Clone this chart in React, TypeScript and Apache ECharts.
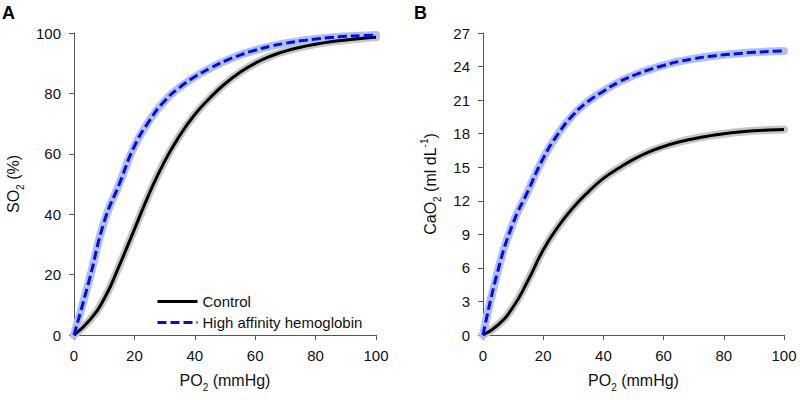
import React, { useEffect, useRef } from "react";
import * as echarts from "echarts";

const PO2 = [0, 5, 10, 15, 20, 25, 30, 35, 40, 45, 50, 55, 60, 65, 70, 75, 80, 85, 90, 95, 100];
const SO2_CONTROL = [0, 4.7, 12, 23, 35, 47, 57.5, 66, 73, 78.5, 83.2, 87, 90, 92.3, 94, 95.3, 96.3, 97.1, 97.7, 98.2, 98.6];
const SO2_HIGH = [0, 18, 37.5, 50, 62.5, 71, 77.5, 82, 85.5, 88.3, 90.7, 92.7, 94.3, 95.6, 96.6, 97.4, 98, 98.5, 98.9, 99.1, 99.3];
const CAO2_CONTROL = [0, 0.9, 2.5, 4.9, 7.6, 9.7, 11.4, 12.8, 14, 14.9, 15.7, 16.35, 16.85, 17.25, 17.55, 17.8, 18, 18.15, 18.25, 18.32, 18.38];
const CAO2_HIGH = [0, 5.8, 10, 12.9, 15.8, 18, 19.7, 20.9, 21.8, 22.6, 23.2, 23.7, 24.1, 24.45, 24.7, 24.9, 25.05, 25.17, 25.27, 25.35, 25.4];
const LEGEND_NAMES = ["Control", "High affinity hemoglobin"];

const FONT = "Liberation Sans, Arial, sans-serif";

const zip = (xs: number[], ys: number[]) => xs.map((x, i) => [x, ys[i]]);

export default function App() {
  const ref = useRef<HTMLDivElement>(null);
  useEffect(() => {
    if (!ref.current) return;
    const chart = echarts.init(ref.current, undefined, { renderer: "svg" });
    const axisLine = { show: true, lineStyle: { color: "#555", width: 1 } };
    const axisTick = { show: true, length: 5, lineStyle: { color: "#555" } };
    const label = { fontSize: 15, color: "#111", fontFamily: FONT };
    const richName = {
      a: { fontSize: 16, color: "#111", fontFamily: FONT },
      b: { fontSize: 10, color: "#111", fontFamily: FONT, verticalAlign: "bottom", padding: [0, 0, -4, 0] },
      c: { fontSize: 10, color: "#111", fontFamily: FONT, verticalAlign: "top", padding: [-3, 0, 0, 0] },
    };
    const xAxisCommon = (gi: number) => ({
      type: "value",
      gridIndex: gi,
      min: 0,
      max: 100,
      interval: 20,
      axisLine,
      axisTick,
      splitLine: { show: false },
      axisLabel: { ...label, margin: 13 },
      name: "{a|PO}{b|2}{a| (mmHg)}",
      nameLocation: "middle",
      nameGap: 37,
      nameTextStyle: { rich: richName },
    });
    const band = (name: string, xi: number, data: number[][], color: string) => ({
      name,
      type: "line",
      xAxisIndex: xi,
      yAxisIndex: xi,
      data,
      smooth: true,
      symbol: "none",
      silent: true,
      lineStyle: { color, width: 8, cap: "round" },
      z: 1,
    });
    const main = (name: string, xi: number, data: number[][], color: string, dashed: boolean) => ({
      name,
      type: "line",
      xAxisIndex: xi,
      yAxisIndex: xi,
      data,
      smooth: true,
      symbol: "none",
      itemStyle: { color },
      lineStyle: { color, width: 3, type: dashed ? [9, 4] : "solid" },
      z: 3,
    });
    chart.setOption({
      animation: false,
      textStyle: { fontFamily: FONT },
      grid: [
        { left: 74, top: 33, width: 302, height: 302 },
        { left: 483, top: 33, width: 301, height: 302 },
      ],
      legend: {
        data: LEGEND_NAMES,
        left: 151,
        top: 289,
        orient: "vertical",
        itemWidth: 40,
        itemHeight: 10,
        itemGap: 6,
        itemStyle: { opacity: 0 },
        lineStyle: { width: 3 },
        textStyle: { fontSize: 15, color: "#111", fontFamily: FONT },
        selectedMode: false,
      },
      xAxis: [xAxisCommon(0), xAxisCommon(1)],
      yAxis: [
        {
          type: "value",
          gridIndex: 0,
          min: 0,
          max: 100,
          interval: 20,
          axisLine,
          axisTick,
          splitLine: { show: false },
          axisLabel: { ...label, margin: 13 },
          name: "{a|SO}{b|2}{a| (%)}",
          nameLocation: "middle",
          nameGap: 53,
          nameTextStyle: { rich: richName },
        },
        {
          type: "value",
          gridIndex: 1,
          min: 0,
          max: 27,
          interval: 3,
          axisLine,
          axisTick,
          splitLine: { show: false },
          axisLabel: { ...label, margin: 13 },
          name: "{a|CaO}{b|2}{a| (ml dL}{c|-1}{a|)}",
          nameLocation: "middle",
          nameGap: 45,
          nameTextStyle: { rich: richName },
        },
      ],
      graphic: [
        { type: "text", left: 2, top: 4, style: { text: "A", fontSize: 18, fontWeight: "bold", fill: "#000", fontFamily: FONT } },
        { type: "text", left: 414, top: 4, style: { text: "B", fontSize: 18, fontWeight: "bold", fill: "#000", fontFamily: FONT } },
      ],
      series: [
        band("Control band A", 0, zip(PO2, SO2_CONTROL), "#c6c6c6"),
        band("High band A", 0, zip(PO2, SO2_HIGH), "#aebff4"),
        main("Control", 0, zip(PO2, SO2_CONTROL), "#000000", false),
        main("High affinity hemoglobin", 0, zip(PO2, SO2_HIGH), "#0808ee", true),
        band("Control band B", 1, zip(PO2, CAO2_CONTROL), "#c6c6c6"),
        band("High band B", 1, zip(PO2, CAO2_HIGH), "#aebff4"),
        main("Control B", 1, zip(PO2, CAO2_CONTROL), "#000000", false),
        main("High B", 1, zip(PO2, CAO2_HIGH), "#0808ee", true),
      ],
    });
    return () => chart.dispose();
  }, []);
  return <div ref={ref} style={{ width: 800, height: 400, position: "absolute", left: 0, top: 0, background: "#fff" }} />;
}
